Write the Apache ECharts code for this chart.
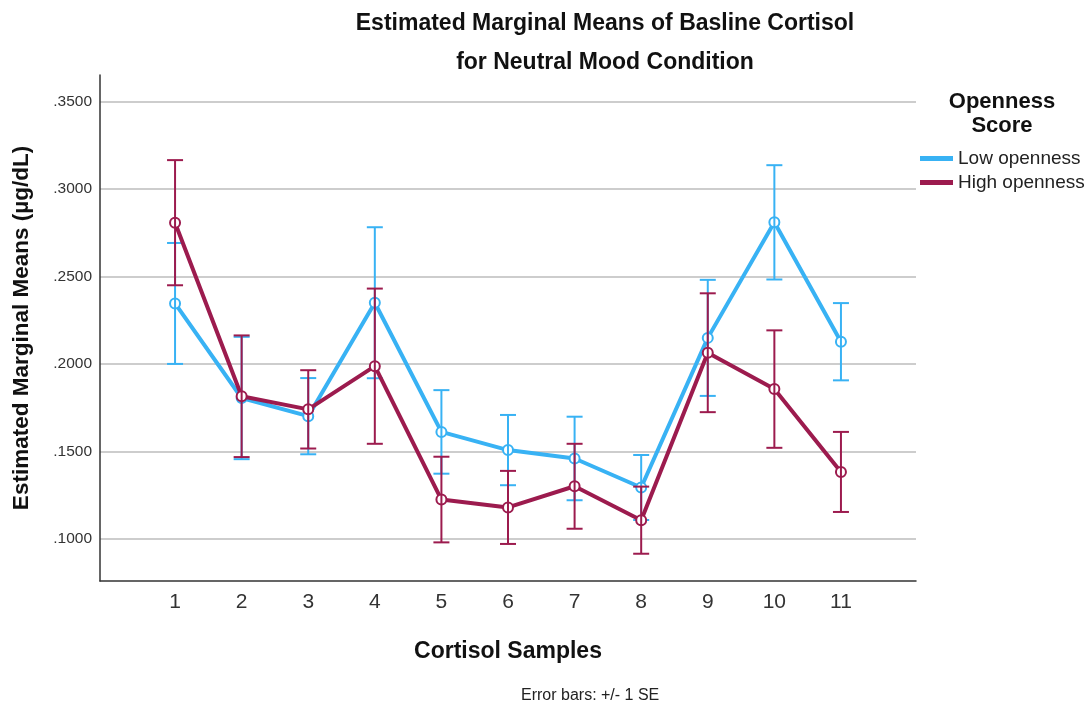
<!DOCTYPE html>
<html>
<head>
<meta charset="utf-8">
<title>Estimated Marginal Means of Basline Cortisol</title>
<script src="https://cdn.jsdelivr.net/npm/echarts@6/dist/echarts.min.js"></script>
<style>
  html, body { margin: 0; padding: 0; background: #ffffff; }
  #chart { width: 1086px; height: 708px; }
</style>
</head>
<body>
<div id="chart"></div>
<script>
// Cortisol sample numbers (x axis)
const samples = [1, 2, 3, 4, 5, 6, 7, 8, 9, 10, 11];

// Estimated marginal means (µg/dL) and standard errors per openness group
const lowMean  = [0.2346, 0.1805, 0.1701, 0.2350, 0.1611, 0.1507, 0.1459, 0.1293, 0.2149, 0.2810, 0.2127];
const lowSE    = [0.0346, 0.0350, 0.0218, 0.0432, 0.0239, 0.0201, 0.0239, 0.0186, 0.0332, 0.0327, 0.0221];
const highMean = [0.2808, 0.1815, 0.1740, 0.1987, 0.1224, 0.1179, 0.1300, 0.1106, 0.2064, 0.1856, 0.1382];
const highSE   = [0.0358, 0.0348, 0.0224, 0.0444, 0.0245, 0.0209, 0.0243, 0.0192, 0.0340, 0.0336, 0.0229];

// Axis tick values
const yTicks = [0.10, 0.15, 0.20, 0.25, 0.30, 0.35];
const xTicks = samples;

const seriesNames = ['Low openness', 'High openness'];
const BLUE = '#38b2f4';
const MAROON = '#9c1b4e';

const lineData = (means) => samples.map((s, i) => [s, means[i]]);
const barData = (means, se) => samples.map((s, i) => [s, means[i] - se[i], means[i] + se[i]]);

// Vertical error bar with caps, positioned through the axis scales
function errorBar(color) {
  return function (params, api) {
    const x = api.value(0);
    const top = api.coord([x, api.value(2)]);
    const bot = api.coord([x, api.value(1)]);
    const half = 8;
    const style = { stroke: color, lineWidth: 2 };
    return {
      type: 'group',
      children: [
        { type: 'line', shape: { x1: top[0], y1: top[1], x2: bot[0], y2: bot[1] }, style: style },
        { type: 'line', shape: { x1: top[0] - half, y1: top[1], x2: top[0] + half, y2: top[1] }, style: style },
        { type: 'line', shape: { x1: bot[0] - half, y1: bot[1], x2: bot[0] + half, y2: bot[1] }, style: style }
      ]
    };
  };
}

const chart = echarts.init(document.getElementById('chart'), null, { renderer: 'canvas' });

const FONT = 'Liberation Sans, Arial, sans-serif';

chart.setOption({
  animation: false,
  backgroundColor: '#ffffff',
  textStyle: { fontFamily: FONT },
  graphic: [
    {
      type: 'text', left: 605 - 300, top: 4,
      style: {
        text: 'Estimated Marginal Means of Basline Cortisol\nfor Neutral Mood Condition',
        width: 600, align: 'center', textAlign: 'center',
        x: 300, fontFamily: FONT, fontSize: 23, fontWeight: 'bold', lineHeight: 39, fill: '#111'
      }
    },
    {
      type: 'text', left: 1002 - 80, top: 90,
      style: {
        text: 'Openness\nScore',
        width: 160, textAlign: 'center', x: 80,
        fontFamily: FONT, fontSize: 22, fontWeight: 'bold', lineHeight: 24, fill: '#111'
      }
    },
    {
      type: 'text', left: 521, top: 688,
      style: { text: 'Error bars: +/- 1 SE', fontFamily: FONT, fontSize: 16, fill: '#222' }
    }
  ],
  legend: {
    data: seriesNames,
    orient: 'vertical',
    left: 920,
    top: 149,
    padding: 0,
    icon: 'rect',
    itemWidth: 33,
    itemHeight: 5,
    itemGap: 5,
    itemStyle: { borderWidth: 0 },
    textStyle: { fontFamily: FONT, fontSize: 19, color: '#222' },
    selectedMode: false
  },
  grid: { left: 100, right: 170, top: 75, bottom: 127, containLabel: false },
  xAxis: {
    type: 'value',
    min: 1 - 1.127,
    max: 11 + 1.127,
    name: 'Cortisol Samples',
    nameLocation: 'middle',
    nameGap: 59,
    nameTextStyle: { fontFamily: FONT, fontSize: 23, fontWeight: 'bold', color: '#111' },
    axisLine: { show: true, onZero: false, lineStyle: { color: '#333', width: 1.5 } },
    axisTick: { show: false, customValues: xTicks },
    axisLabel: {
      customValues: xTicks,
      margin: 11,
      fontFamily: FONT, fontSize: 21, color: '#333'
    },
    splitLine: { show: false }
  },
  yAxis: {
    type: 'value',
    min: 0.0758,
    max: 0.3653,
    name: 'Estimated Marginal Means (µg/dL)',
    nameLocation: 'middle',
    nameGap: 67,
    nameTextStyle: { fontFamily: FONT, fontSize: 22.5, fontWeight: 'bold', color: '#111' },
    axisLine: { show: true, onZero: false, lineStyle: { color: '#333', width: 1.5 } },
    axisTick: { show: false, customValues: yTicks },
    axisLabel: {
      customValues: yTicks,
      margin: 8,
      fontFamily: FONT, fontSize: 15.5, color: '#333',
      formatter: (v) => v.toFixed(4).replace(/^0/, '')
    },
    splitLine: { show: true, lineStyle: { color: '#bdbdbd', width: 1.5 } }
  },
  series: [
    {
      name: seriesNames[0], type: 'line', z: 2,
      data: lineData(lowMean),
      symbol: 'emptyCircle', symbolSize: 10,
      lineStyle: { color: BLUE, width: 4 },
      itemStyle: { color: BLUE, borderColor: '#86d0f8', borderWidth: 1.5 }
    },
    {
      type: 'custom', z: 3, clip: false,
      renderItem: errorBar(BLUE),
      data: barData(lowMean, lowSE)
    },
    {
      name: seriesNames[1], type: 'line', z: 4,
      data: lineData(highMean),
      symbol: 'emptyCircle', symbolSize: 10,
      lineStyle: { color: MAROON, width: 4 },
      itemStyle: { color: MAROON, borderColor: '#b8608a', borderWidth: 1.5 }
    },
    {
      type: 'custom', z: 5, clip: false,
      renderItem: errorBar(MAROON),
      data: barData(highMean, highSE)
    }
  ]
});
</script>
</body>
</html>
